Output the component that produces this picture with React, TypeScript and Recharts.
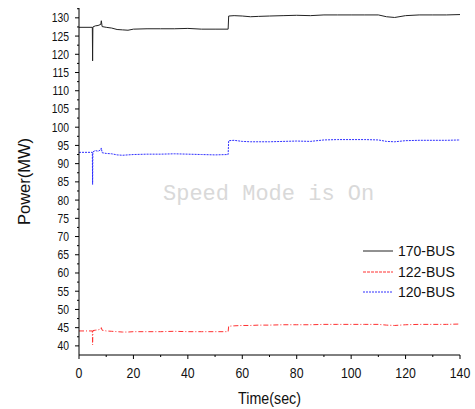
import React from 'react';
import { LineChart, Line, XAxis, YAxis } from 'recharts';

// time (sec) and bus power (MW)
const time = [0, 4.9, 5.0, 5.1, 6, 7, 8, 8.2, 8.5, 10, 12, 14, 16, 18, 20, 25, 30, 35, 40, 45, 50, 54.8, 55, 57, 60, 63, 66, 70, 75, 80, 85, 90, 95, 100, 105, 110, 113, 116, 120, 125, 130, 135, 140];
const bus170 = [127.4, 127.4, 118.2, 127.5, 127.8, 127.9, 128.2, 129.2, 127.6, 127.4, 127.2, 126.8, 126.7, 126.6, 126.9, 127.0, 127.0, 127.0, 127.1, 126.9, 126.9, 126.9, 130.5, 130.6, 130.5, 130.3, 130.4, 130.5, 130.6, 130.7, 130.6, 130.8, 130.8, 130.8, 130.8, 130.8, 130.3, 130.1, 130.6, 130.8, 130.8, 130.8, 130.9];
const bus122 = [44.1, 44.1, 40.3, 44.2, 44.3, 44.4, 44.6, 45.0, 44.3, 44.1, 44.0, 43.9, 43.8, 43.8, 43.9, 43.9, 43.9, 44.0, 43.9, 43.9, 43.9, 43.9, 45.4, 45.5, 45.6, 45.6, 45.7, 45.7, 45.8, 45.8, 45.8, 45.9, 45.9, 45.9, 45.9, 45.9, 45.7, 45.6, 45.8, 45.9, 45.9, 45.9, 46.0];
const bus120 = [93.1, 93.1, 84.3, 93.2, 93.6, 93.4, 93.8, 94.3, 93.0, 92.8, 92.7, 92.4, 92.3, 92.4, 92.5, 92.6, 92.6, 92.7, 92.6, 92.5, 92.4, 92.5, 96.3, 96.4, 96.1, 96.0, 96.0, 96.0, 96.1, 96.2, 96.1, 96.5, 96.6, 96.6, 96.6, 96.5, 96.1, 96.0, 96.3, 96.4, 96.4, 96.4, 96.5];

const xTicks = [0, 10, 20, 30, 40, 50, 60, 70, 80, 90, 100, 110, 120, 130, 140];
const yTicks = [40, 42.5, 45, 47.5, 50, 52.5, 55, 57.5, 60, 62.5, 65, 67.5, 70, 72.5, 75, 77.5, 80, 82.5, 85, 87.5, 90, 92.5, 95, 97.5, 100, 102.5, 105, 107.5, 110, 112.5, 115, 117.5, 120, 122.5, 125, 127.5, 130, 132.5];

const seriesKeys = ['b170', 'b122', 'b120'];
const seriesNames = ['170-BUS', '122-BUS', '120-BUS'];
const seriesColors = ['#222222', '#ff3030', '#3030ff'];
const seriesDash = ['0', '5 2 1 2', '2 1'];

const data = time.map((t, i) => ({ t, b170: bus170[i], b122: bus122[i], b120: bus120[i] }));

const sans = '"Liberation Sans", Arial, sans-serif';

const YTick = (props: any) => {
  const { x, y, payload } = props;
  const major = payload.value % 5 === 0;
  return (
    <g>
      <line x1={x - (major ? 4 : 2)} x2={x} y1={y} y2={y} stroke="#000" />
      {major && payload.value <= 130 && (
        <text transform={`translate(${x - 10},${y + 4.5}) scale(0.83,1)`} textAnchor="end" fontSize={12.5} fontFamily={sans} fill="#111">
          {payload.value}
        </text>
      )}
    </g>
  );
};

const XTick = (props: any) => {
  const { x, y, payload } = props;
  const major = payload.value % 20 === 0;
  return (
    <g>
      <line x1={x} x2={x} y1={y} y2={y + (major ? 4 : 2)} stroke="#000" />
      {major && (
        <text transform={`translate(${x},${y + 23}) scale(0.88,1)`} textAnchor="middle" fontSize={14} fontFamily={sans} fill="#111">
          {payload.value}
        </text>
      )}
    </g>
  );
};

const XTitle = (props: any) => {
  const { viewBox } = props;
  const cx = viewBox.x + viewBox.width / 2;
  return (
    <text transform={`translate(${cx},${viewBox.y + 49}) scale(0.84,1)`} textAnchor="middle" fontSize={17} fontFamily={sans} fill="#111">
      Time(sec)
    </text>
  );
};

export default function App() {
  return (
    <div style={{ position: 'absolute', left: 0, top: 0, width: 475, height: 409, background: '#fff' }}>
      <LineChart width={475} height={409} data={data} margin={{ top: 8, right: 15, left: 0, bottom: 0 }}>
        <XAxis
          dataKey="t"
          type="number"
          domain={[0, 140]}
          ticks={xTicks}
          interval={0}
          tick={<XTick />}
          tickLine={false}
          tickSize={0}
          tickMargin={0}
          height={54}
          axisLine={{ stroke: '#000' }}
          label={<XTitle />}
        />
        <YAxis
          type="number"
          domain={[37.5, 132.7]}
          allowDataOverflow
          ticks={yTicks}
          interval={0}
          tick={<YTick />}
          tickLine={false}
          tickSize={0}
          tickMargin={0}
          width={79}
          axisLine={{ stroke: '#000' }}
          label={{ value: 'Power(MW)', angle: -90, position: 'insideLeft', offset: 24, fontSize: 16.5, fontFamily: sans, fill: '#111', style: { textAnchor: 'middle' } }}
        />
        {seriesKeys.map((k, i) => (
          <Line
            key={k}
            dataKey={k}
            name={seriesNames[i]}
            type="linear"
            stroke={seriesColors[i]}
            strokeWidth={1}
            strokeDasharray={seriesDash[i]}
            dot={false}
            isAnimationActive={false}
          />
        ))}
      </LineChart>
      <div
        style={{
          position: 'absolute', left: 163, top: 182, fontFamily: '"Liberation Mono", "DejaVu Sans Mono", monospace',
          fontSize: 22, color: '#d9d9d9', whiteSpace: 'nowrap', lineHeight: '26px',
        }}
      >
        Speed Mode is On
      </div>
      <div style={{ position: 'absolute', left: 363, top: 241 }}>
        {seriesNames.map((n, i) => (
          <div key={n} style={{ display: 'flex', alignItems: 'center', height: 20.5 }}>
            <svg width={32} height={10}>
              <line x1={0} x2={30} y1={5} y2={5} stroke={seriesColors[i]} strokeWidth={1} strokeDasharray={i === 1 ? '3 1' : seriesDash[i]} />
            </svg>
            <span style={{ fontFamily: sans, fontSize: 14, color: '#111', marginLeft: 3 }}>{n}</span>
          </div>
        ))}
      </div>
    </div>
  );
}
